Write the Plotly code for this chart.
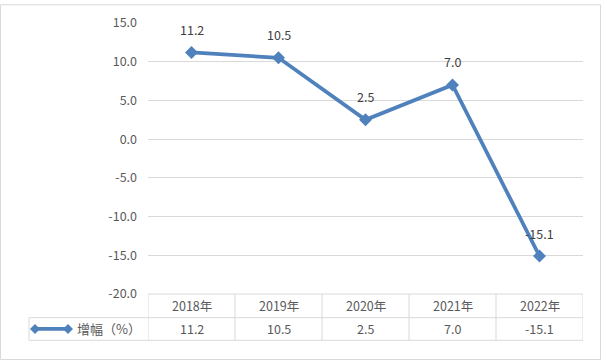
import plotly.graph_objects as go

# ---- data ----
years = ["2018年", "2019年", "2020年", "2021年", "2022年"]
growth = [11.2, 10.5, 2.5, 7.0, -15.1]
series_name = "增幅（%）"
y_ticks = [15, 10, 5, 0, -5, -10, -15, -20]
y_tick_labels = [f"{v:.1f}" for v in y_ticks]

# ---- layout helpers (pixel -> paper) ----
W, H = 602, 362
L, R, T, B = 148, 19, 19, 68
PW, PH = W - L - R, H - T - B


def px_x(p):
    return (p - L) / PW


def px_y(p):
    return (H - B - p) / PH


LINE_COL = "#4F81BD"
GRID_COL = "#D9D9D9"
TXT_COL = "#595959"
FONT = "Noto Sans CJK SC"

xs = list(range(len(years)))

fig = go.Figure()
fig.add_trace(go.Scatter(
    x=xs, y=growth, mode="lines+markers", name=series_name,
    line=dict(color=LINE_COL, width=3.75),
    marker=dict(symbol="diamond", size=10, color=LINE_COL),
    showlegend=False, cliponaxis=False,
))

annotations = []
# data labels
for x, v in zip(xs, growth):
    annotations.append(dict(x=x, y=v, xref="x", yref="y", text=f"{v:.1f}",
                            showarrow=False, yshift=23, xanchor="center", yanchor="middle",
                            font=dict(family=FONT, size=12.5, color="#404040")))

shapes = []
row1_y, row2_y, row3_y = 294, 318, 341
# table horizontal lines
shapes.append(dict(type="line", xref="paper", yref="paper", x0=0, x1=1,
                   y0=px_y(row1_y), y1=px_y(row1_y), line=dict(color=GRID_COL, width=1)))
for yy in (row2_y, row3_y):
    shapes.append(dict(type="line", xref="paper", yref="paper", x0=px_x(29), x1=1,
                       y0=px_y(yy), y1=px_y(yy), line=dict(color=GRID_COL, width=1)))
# legend cell left edge
shapes.append(dict(type="line", xref="paper", yref="paper", x0=px_x(29), x1=px_x(29),
                   y0=px_y(row2_y), y1=px_y(row3_y), line=dict(color=GRID_COL, width=1)))
# column boundaries
for i in range(len(years) + 1):
    shapes.append(dict(type="line", xref="x", yref="paper", x0=i - 0.5, x1=i - 0.5,
                       y0=px_y(row1_y), y1=px_y(row3_y), line=dict(color=GRID_COL, width=1)))

# table text
for x, yr, v in zip(xs, years, growth):
    annotations.append(dict(x=x, y=px_y((row1_y + row2_y) / 2), xref="x", yref="paper",
                            text=yr, showarrow=False, xanchor="center", yanchor="middle",
                            font=dict(family=FONT, size=12.5, color=TXT_COL)))
    annotations.append(dict(x=x, y=px_y((row2_y + row3_y) / 2), xref="x", yref="paper",
                            text=f"{v:.1f}", showarrow=False, xanchor="center", yanchor="middle",
                            font=dict(family=FONT, size=12.5, color=TXT_COL)))

# legend key in table
ly = px_y((row2_y + row3_y) / 2)
shapes.append(dict(type="line", xref="paper", yref="paper", x0=px_x(35), x1=px_x(68),
                   y0=ly, y1=ly, line=dict(color=LINE_COL, width=3.75)))
for cx in (35, 68):
    shapes.append(dict(type="path", xref="paper", yref="paper", xsizemode="pixel",
                       ysizemode="pixel", xanchor=px_x(cx), yanchor=ly,
                       path="M -5 0 L 0 5 L 5 0 L 0 -5 Z",
                       fillcolor=LINE_COL, line=dict(color=LINE_COL, width=0)))
annotations.append(dict(x=px_x(75), y=ly, xref="paper", yref="paper", text=series_name,
                        xanchor="left", yanchor="middle", showarrow=False,
                        font=dict(family=FONT, size=13, color=TXT_COL)))

# outer chart border
shapes.append(dict(type="rect", xref="paper", yref="paper",
                   x0=px_x(0.5), x1=px_x(W - 1.5), y0=px_y(H - 1.5), y1=px_y(0.5),
                   line=dict(color=GRID_COL, width=1), fillcolor="rgba(0,0,0,0)", layer="below"))

fig.update_layout(
    width=W, height=H,
    margin=dict(l=L, r=R, t=T, b=B, pad=0),
    paper_bgcolor="white", plot_bgcolor="white",
    shapes=shapes, annotations=annotations,
    font=dict(family=FONT, size=12.5, color=TXT_COL),
)
fig.update_xaxes(range=[-0.5, len(years) - 0.5], showgrid=False, zeroline=False,
                 showticklabels=False, ticks="", showline=False, fixedrange=True)
fig.update_yaxes(range=[-20, 15], tickvals=y_ticks, ticktext=y_tick_labels,
                 showgrid=True, gridcolor=GRID_COL, gridwidth=1, zeroline=False,
                 showline=False, ticks="", ticklabelstandoff=10,
                 tickfont=dict(family=FONT, size=12.5, color=TXT_COL))

fig.write_html("out.html", config={"displayModeBar": False},
               post_script="document.body.style.margin='0';document.body.style.padding='0';")
